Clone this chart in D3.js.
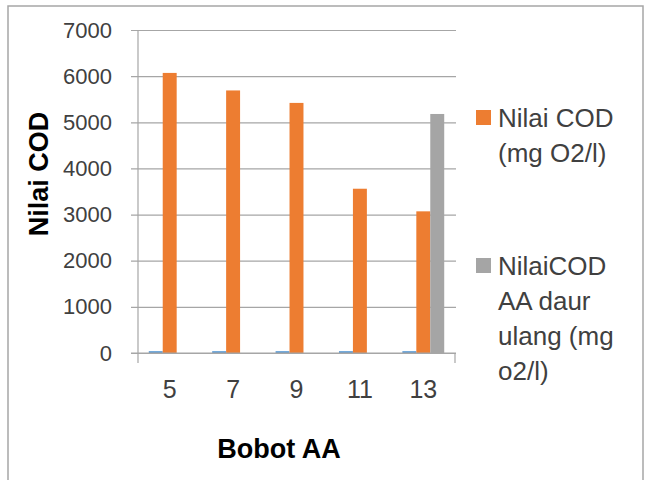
<!DOCTYPE html>
<html>
<head>
<meta charset="utf-8">
<script src="https://cdn.jsdelivr.net/npm/d3@7"></script>
<style>
  body { margin: 0; background: #fff; }
  text { font-family: "Liberation Sans", Arial, sans-serif; }
</style>
</head>
<body>
<div id="chart"></div>
<script>
var categories = ["5", "7", "9", "11", "13"];
var seriesNames = ["Blank", "Nilai COD (mg O2/l)", "NilaiCOD AA daur ulang (mg o2/l)"];
var blankValues = [40, 40, 40, 40, 40];
var codValues = [6070, 5690, 5420, 3560, 3070];
var recycledValues = [0, 0, 0, 0, 5180];
var yTicks = [0, 1000, 2000, 3000, 4000, 5000, 6000, 7000];

var colors = ["#5b9bd5", "#ed7d31", "#a5a5a5"];
var allSeries = [blankValues, codValues, recycledValues];

var width = 647, height = 480;
var plot = {left: 138, right: 455, top: 30, bottom: 353};

var svg = d3.select("#chart")
            .append("svg")
            .attr("width", width)
            .attr("height", height);

// outer frame
svg.append("rect")
   .attr("x", 8).attr("y", 6)
   .attr("width", 635).attr("height", 490)
   .attr("fill", "none")
   .attr("stroke", "#a6a6a6")
   .attr("stroke-width", 1.5);

var x0 = d3.scaleBand()
           .domain(categories)
           .range([plot.left, plot.right])
           .paddingInner(0.34)
           .paddingOuter(0.17);

var x1 = d3.scaleBand()
           .domain(d3.range(allSeries.length))
           .range([0, x0.bandwidth()]);

var y = d3.scaleLinear()
          .domain([0, 7000])
          .range([plot.bottom, plot.top]);

// gridlines + y labels
var yAxis = d3.axisLeft(y)
              .tickValues(yTicks)
              .tickSize(0)
              .tickFormat(d3.format("d"));

var gy = svg.append("g")
            .attr("transform", "translate(" + (plot.left - 7) + ",0)")
            .call(yAxis);
gy.select(".domain").remove();
gy.selectAll(".tick line")
  .attr("x1", 0)
  .attr("x2", plot.right - plot.left + 8)
  .attr("stroke", "#a6a6a6")
  .attr("stroke-width", 1.2);
gy.selectAll(".tick text")
  .attr("x", -19)
  .attr("font-size", "22px")
  .attr("fill", "#404040");

// y axis line
svg.append("line")
   .attr("x1", plot.left).attr("x2", plot.left)
   .attr("y1", plot.top).attr("y2", plot.bottom + 10)
   .attr("stroke", "#a6a6a6").attr("stroke-width", 1.2);

// bars
var groups = svg.selectAll("g.cat")
                .data(categories)
                .enter().append("g")
                .attr("class", "cat")
                .attr("transform", function(d) { return "translate(" + x0(d) + ",0)"; });

groups.selectAll("rect")
      .data(function(d, i) {
        return allSeries.map(function(s, j) { return {series: j, value: s[i]}; });
      })
      .enter().append("rect")
      .attr("x", function(d) { return x1(d.series); })
      .attr("width", x1.bandwidth())
      .attr("y", function(d) { return y(d.value); })
      .attr("height", function(d) { return y(0) - y(d.value); })
      .attr("fill", function(d) { return colors[d.series]; });

// x axis
var xAxis = d3.axisBottom(x0).tickSize(0).tickPadding(27);
var gx = svg.append("g")
            .attr("transform", "translate(0," + plot.bottom + ")")
            .call(xAxis);
gx.select(".domain").remove();
gx.selectAll(".tick text")
  .attr("font-size", "25px")
  .attr("fill", "#404040");

svg.append("line")
   .attr("x1", plot.left - 7).attr("x2", plot.right + 1)
   .attr("y1", plot.bottom).attr("y2", plot.bottom)
   .attr("stroke", "#a6a6a6").attr("stroke-width", 1.2);
svg.append("line")
   .attr("x1", plot.right).attr("x2", plot.right)
   .attr("y1", plot.bottom).attr("y2", plot.bottom + 10)
   .attr("stroke", "#a6a6a6").attr("stroke-width", 1.2);

// axis titles
svg.append("text")
   .attr("transform", "translate(48,174) rotate(-90)")
   .attr("text-anchor", "middle")
   .attr("font-size", "27px")
   .attr("font-weight", "bold")
   .attr("fill", "#000")
   .text("Nilai COD");

svg.append("text")
   .attr("x", 279).attr("y", 458)
   .attr("text-anchor", "middle")
   .attr("font-size", "27px")
   .attr("font-weight", "bold")
   .attr("fill", "#000")
   .text("Bobot AA");

// legend (blank series has no entry)
var legendItems = [
  {color: colors[1], lines: ["Nilai COD", "(mg O2/l)"], top: 110},
  {color: colors[2], lines: ["NilaiCOD", "AA daur", "ulang (mg", "o2/l)"], top: 258}
];
var LEGEND_LINE = 35;

var legend = svg.selectAll("g.legend")
                .data(legendItems)
                .enter().append("g")
                .attr("class", "legend")
                .attr("transform", function(d) { return "translate(476," + d.top + ")"; });

legend.append("rect")
      .attr("width", 15).attr("height", 15)
      .attr("fill", function(d) { return d.color; });

legend.append("text")
      .attr("font-size", "26px")
      .attr("fill", "#404040")
      .selectAll("tspan")
      .data(function(d) { return d.lines; })
      .enter().append("tspan")
      .attr("x", 22)
      .attr("y", function(d, i) { return 17 + i * LEGEND_LINE; })
      .text(function(d) { return d; });
</script>
</body>
</html>
